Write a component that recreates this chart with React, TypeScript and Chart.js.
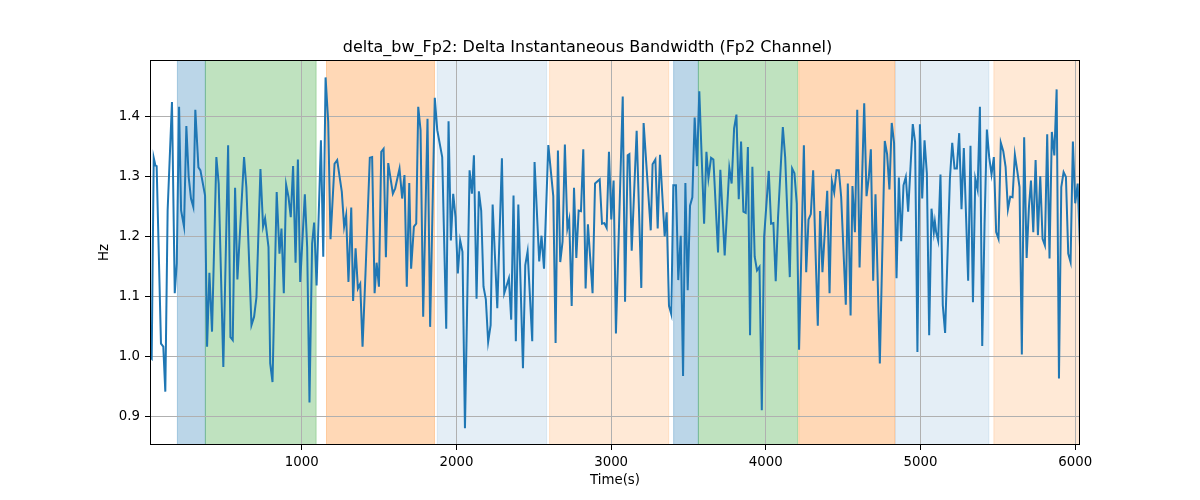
import { useEffect, useRef } from "react"
import { Chart, registerables } from "chart.js"

Chart.register(...registerables)

// time (s) and delta bandwidth (Hz)
const timeSec = [
  19, 30, 43, 54, 62, 90, 105, 118, 133, 161, 179, 192, 207, 220, 239, 254, 269, 284, 299, 312,
  332, 345, 375, 388, 403, 420, 448, 463, 493, 524, 539, 554, 569, 584, 627, 642, 675, 692, 707, 733,
  750, 763, 785, 796, 811, 838, 856, 869, 884, 899, 914, 929, 944, 960, 975, 990, 1020, 1035, 1050, 1067,
  1080, 1096, 1124, 1139, 1154, 1171, 1186, 1212, 1229, 1259, 1274, 1287, 1302, 1320, 1332, 1348, 1363, 1378, 1393, 1412,
  1440, 1455, 1471, 1484, 1499, 1514, 1529, 1544, 1559, 1589, 1604, 1632, 1649, 1664, 1679, 1695, 1707, 1725, 1740, 1753,
  1768, 1785, 1813, 1830, 1860, 1876, 1908, 1934, 1949, 1964, 1979, 1994, 2009, 2024, 2039, 2055, 2085, 2100, 2113, 2130,
  2145, 2160, 2175, 2190, 2205, 2221, 2234, 2264, 2294, 2309, 2339, 2354, 2369, 2384, 2400, 2430, 2445, 2460, 2490, 2505,
  2535, 2550, 2566, 2594, 2626, 2641, 2656, 2671, 2686, 2701, 2717, 2729, 2745, 2760, 2775, 2790, 2805, 2820, 2835, 2850,
  2880, 2896, 2926, 2941, 2956, 2971, 2986, 3001, 3016, 3031, 3075, 3090, 3107, 3118, 3133, 3165, 3195, 3210, 3256, 3268,
  3286, 3301, 3316, 3346, 3359, 3374, 3389, 3402, 3419, 3434, 3450, 3465, 3480, 3495, 3510, 3525, 3540, 3555, 3570, 3601,
  3616, 3629, 3646, 3661, 3691, 3706, 3734, 3764, 3779, 3795, 3810, 3825, 3840, 3855, 3870, 3884, 3898, 3913, 3928, 3943,
  3959, 3974, 3989, 4019, 4034, 4049, 4064, 4079, 4110, 4125, 4155, 4170, 4185, 4200, 4215, 4246, 4261, 4276, 4291, 4306,
  4321, 4336, 4351, 4366, 4397, 4412, 4427, 4442, 4457, 4472, 4487, 4517, 4530, 4548, 4560, 4576, 4591, 4606, 4636, 4651,
  4666, 4679, 4694, 4709, 4737, 4769, 4784, 4799, 4814, 4829, 4845, 4860, 4875, 4890, 4905, 4920, 4950, 4965, 4980, 4996,
  5011, 5026, 5041, 5056, 5071, 5086, 5093, 5101, 5114, 5129, 5144, 5159, 5190, 5205, 5220, 5235, 5250, 5265, 5280, 5308,
  5323, 5339, 5354, 5369, 5384, 5399, 5414, 5429, 5444, 5459, 5474, 5489, 5504, 5519, 5535, 5550, 5565, 5580, 5595, 5610,
  5625, 5640, 5655, 5670, 5686, 5701, 5714, 5729, 5744, 5759, 5774, 5789, 5804, 5819, 5834, 5849, 5865, 5880, 5895, 5910,
  5925, 5940, 5955, 5970, 5985, 6000, 6016, 6031,
]

const bandwidthHz = [
  1.0, 0.997, 1.332, 1.319, 1.318, 1.022, 1.017, 0.942, 1.244, 1.425, 1.106, 1.156, 1.417, 1.244, 1.217, 1.385, 1.3, 1.264, 1.25, 1.412,
  1.316, 1.311, 1.269, 1.017, 1.14, 1.042, 1.333, 1.289, 0.983, 1.353, 1.033, 1.028, 1.282, 1.129, 1.333, 1.283, 1.053, 1.067, 1.099, 1.313,
  1.217, 1.231, 1.183, 0.989, 0.958, 1.275, 1.172, 1.214, 1.106, 1.287, 1.267, 1.233, 1.318, 1.157, 1.329, 1.125, 1.271, 1.183, 0.924, 1.189,
  1.224, 1.119, 1.361, 1.167, 1.466, 1.392, 1.196, 1.322, 1.328, 1.275, 1.217, 1.236, 1.125, 1.249, 1.093, 1.181, 1.114, 1.122, 1.017, 1.139,
  1.332, 1.333, 1.106, 1.157, 1.117, 1.342, 1.347, 1.166, 1.323, 1.272, 1.281, 1.314, 1.264, 1.303, 1.117, 1.29, 1.147, 1.217, 1.222, 1.417,
  1.378, 1.067, 1.397, 1.05, 1.432, 1.378, 1.333, 1.047, 1.393, 1.194, 1.272, 1.233, 1.139, 1.194, 1.175, 0.881, 1.311, 1.272, 1.336, 1.097,
  1.276, 1.244, 1.117, 1.096, 1.025, 1.053, 1.254, 1.081, 1.331, 1.106, 1.131, 1.062, 1.269, 1.026, 1.254, 0.981, 1.153, 1.176, 1.026, 1.325,
  1.159, 1.202, 1.147, 1.353, 1.268, 1.023, 1.344, 1.158, 1.192, 1.354, 1.214, 1.229, 1.085, 1.282, 1.165, 1.244, 1.243, 1.346, 1.114, 1.221,
  1.106, 1.289, 1.296, 1.222, 1.223, 1.215, 1.342, 1.229, 1.294, 1.039, 1.434, 1.092, 1.336, 1.338, 1.177, 1.377, 1.115, 1.39, 1.211, 1.321,
  1.329, 1.214, 1.337, 1.201, 1.241, 1.085, 1.071, 1.286, 1.286, 1.128, 1.202, 0.968, 1.29, 1.111, 1.252, 1.266, 1.399, 1.318, 1.443, 1.222,
  1.342, 1.298, 1.332, 1.329, 1.174, 1.312, 1.169, 1.315, 1.289, 1.381, 1.404, 1.263, 1.359, 1.242, 1.24, 1.35, 1.036, 1.317, 1.167, 1.144,
  1.15, 0.911, 1.2, 1.31, 1.222, 1.223, 1.126, 1.233, 1.383, 1.333, 1.133, 1.314, 1.306, 1.256, 1.012, 1.353, 1.141, 1.229, 1.238, 1.311,
  1.178, 1.052, 1.243, 1.141, 1.277, 1.106, 1.293, 1.274, 1.311, 1.311, 1.267, 1.087, 1.289, 1.069, 1.285, 1.208, 1.412, 1.149, 1.423, 1.268,
  1.3, 1.346, 1.127, 1.271, 0.989, 1.36, 1.338, 1.279, 1.39, 1.357, 1.131, 1.299, 1.193, 1.286, 1.3, 1.242, 1.388, 1.358, 1.008, 1.388,
  1.264, 1.361, 1.306, 1.036, 1.247, 1.208, 1.225, 1.208, 1.194, 1.304, 1.086, 1.04, 1.297, 1.357, 1.314, 1.314, 1.373, 1.246, 1.348, 1.127,
  1.352, 1.091, 1.297, 1.279, 1.417, 1.018, 1.222, 1.379, 1.333, 1.304, 1.333, 1.208, 1.197, 1.357, 1.343, 1.317, 1.246, 1.267, 1.266, 1.337,
  1.311, 1.283, 1.004, 1.366, 1.165, 1.25, 1.294, 1.208, 1.328, 1.203, 1.301, 1.197, 1.186, 1.371, 1.164, 1.375, 1.336, 1.446, 0.964, 1.283,
  1.308, 1.3, 1.172, 1.158, 1.359, 1.256, 1.289, 1.183,
]

const xTickValues = [1000, 2000, 3000, 4000, 5000, 6000]
const yTickValues = [0.9, 1.0, 1.1, 1.2, 1.3, 1.4]

// shaded state intervals (s)
const spanStart = [196, 377, 1160, 1876, 2602, 3404, 3564, 4213, 4838, 5474]
const spanEnd = [377, 1093, 1858, 2583, 3372, 3564, 4206, 4834, 5442, 6040]
const spanState = ["a", "b", "c", "d", "e", "a", "b", "c", "d", "e"]

const stateColors: Record<string, string> = {
  a: "rgba(31,119,180,0.3)",
  b: "rgba(44,160,44,0.3)",
  c: "rgba(255,127,14,0.3)",
  d: "rgba(31,119,180,0.12)",
  e: "rgba(255,127,14,0.17)",
}

const spanPlugin = {
  id: "stateSpans",
  beforeDraw(chart: any) {
    const { ctx, chartArea, scales } = chart
    ctx.save()
    ctx.beginPath()
    ctx.rect(chartArea.left, chartArea.top, chartArea.width, chartArea.height)
    ctx.clip()
    spanStart.forEach((s, i) => {
      const x0 = scales.x.getPixelForValue(s)
      const x1 = scales.x.getPixelForValue(spanEnd[i])
      const color = stateColors[spanState[i]]
      ctx.fillStyle = color
      ctx.fillRect(x0, chartArea.top, x1 - x0, chartArea.height)
      ctx.strokeStyle = color
      ctx.lineWidth = 1
      ctx.beginPath()
      ctx.moveTo(x0, chartArea.top)
      ctx.lineTo(x0, chartArea.bottom)
      ctx.moveTo(x1, chartArea.top)
      ctx.lineTo(x1, chartArea.bottom)
      ctx.stroke()
    })
    ctx.restore()
  },
}

// matplotlib-like frame on all four sides
const framePlugin = {
  id: "frame",
  afterDatasetsDraw(chart: any) {
    const { ctx, chartArea } = chart
    ctx.save()
    ctx.strokeStyle = "#000"
    ctx.lineWidth = 1
    ctx.strokeRect(
      Math.round(chartArea.left) + 0.5,
      Math.round(chartArea.top) + 0.5,
      Math.round(chartArea.width) - 1,
      Math.round(chartArea.height) - 1
    )
    ctx.restore()
  },
}

export default function App() {
  const chartRef = useRef<HTMLCanvasElement>(null)
  const chartInstance = useRef<Chart | null>(null)

  useEffect(() => {
    if (!chartRef.current) return
    if (chartInstance.current) chartInstance.current.destroy()

    const ctx = chartRef.current.getContext("2d")
    if (!ctx) return

    Chart.defaults.font.family = "'DejaVu Sans', sans-serif"
    Chart.defaults.color = "#000"

    chartInstance.current = new Chart(ctx, {
      type: "line",
      data: {
        datasets: [
          {
            data: timeSec.map((t, i) => ({ x: t, y: bandwidthHz[i] })),
            borderColor: "#1f77b4",
            borderWidth: 2,
            pointRadius: 0,
            tension: 0,
            fill: false,
          },
        ],
      },
      options: {
        animation: false,
        responsive: true,
        maintainAspectRatio: false,
        layout: { padding: { left: 95, right: 120, top: 0, bottom: 0 } },
        plugins: {
          legend: { display: false },
          tooltip: { enabled: false },
          title: {
            display: true,
            text: "delta_bw_Fp2: Delta Instantaneous Bandwidth (Fp2 Channel)",
            font: { size: 16, weight: "normal" },
            color: "#000",
            padding: { top: 38.4, bottom: 2.4 },
          },
        },
        scales: {
          x: {
            type: "linear",
            min: 19,
            max: 6031,
            afterBuildTicks: (scale: any) => {
              scale.ticks = xTickValues.map((v) => ({ value: v }))
            },
            afterFit: (scale: any) => {
              scale.height = 55
            },
            ticks: {
              font: { size: 13.33 },
              padding: 5,
              maxRotation: 0,
              callback: (value: any) => String(value),
            },
            grid: { color: "#b0b0b0", lineWidth: 1, tickLength: 5, tickColor: "#000" },
            border: { display: false },
            title: {
              display: true,
              text: "Time(s)",
              font: { size: 13.33 },
              padding: { top: 0, bottom: 11 },
            },
          },
          y: {
            type: "linear",
            min: 0.853,
            max: 1.495,
            afterBuildTicks: (scale: any) => {
              scale.ticks = yTickValues.map((v) => ({ value: v }))
            },
            afterFit: (scale: any) => {
              scale.width = 55
            },
            ticks: {
              font: { size: 13.33 },
              padding: 5,
              callback: (value: any) => Number(value).toFixed(1),
            },
            grid: { color: "#b0b0b0", lineWidth: 1, tickLength: 5, tickColor: "#000" },
            border: { display: false },
            title: {
              display: true,
              text: "Hz",
              font: { size: 13.33 },
              padding: { top: 2, bottom: 0 },
            },
          },
        },
      },
      plugins: [spanPlugin, framePlugin],
    })

    return () => {
      if (chartInstance.current) {
        chartInstance.current.destroy()
        chartInstance.current = null
      }
    }
  }, [])

  return (
    <div style={{ position: "fixed", left: 0, top: 0, width: 1200, height: 500, background: "#fff" }}>
      <canvas ref={chartRef}></canvas>
    </div>
  )
}
